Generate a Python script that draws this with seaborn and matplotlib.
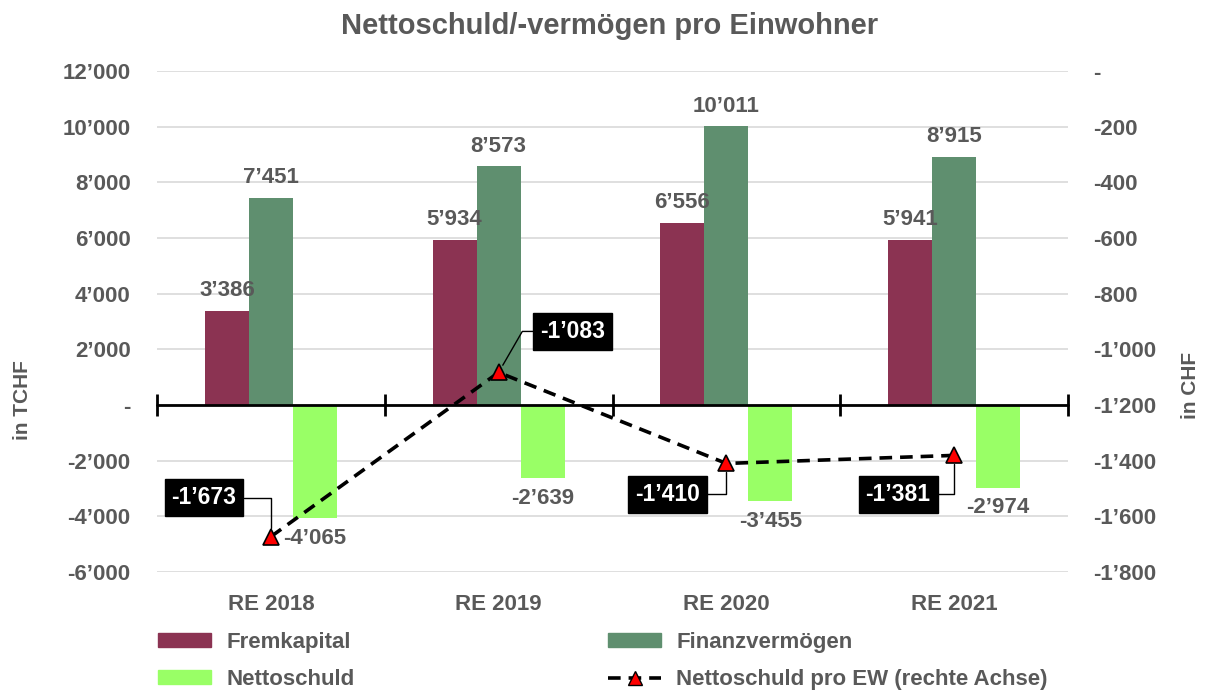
import numpy as np
import pandas as pd
import matplotlib as mpl
from matplotlib import pyplot as plt
from matplotlib.patches import Patch
from matplotlib.lines import Line2D
import seaborn as sns

# data
years = ['RE 2018', 'RE 2019', 'RE 2020', 'RE 2021']
fremkapital = [3386, 5934, 6556, 5941]
finanzvermoegen = [7451, 8573, 10011, 8915]
nettoschuld = [-4065, -2639, -3455, -2974]
netto_pro_ew = [-1673, -1083, -1410, -1381]

series = ['Fremkapital', 'Finanzvermögen', 'Nettoschuld']
colors = ['#8b3352', '#5f8f6f', '#99ff66']
line_label = 'Nettoschuld pro EW (rechte Achse)'

dframe = pd.DataFrame({
    'Jahr': years * 3,
    'Serie': [s for s in series for _ in years],
    'Wert': fremkapital + finanzvermoegen + nettoschuld,
})

grey = '#595959'


def fmt(v):
    if v == 0:
        return '-'
    return f'{int(v):,}'.replace(',', '\u2019')


sns.set_style("white")
plt.rcParams['font.family'] = ['Liberation Sans', 'DejaVu Sans']
plt.rcParams['font.weight'] = 'bold'

fig = plt.figure(figsize=(12.06, 6.93), dpi=100)
ax = fig.add_axes([157 / 1206, 1 - 572 / 693, 911 / 1206, 501 / 693])

sns.barplot(data=dframe, x='Jahr', y='Wert', hue='Serie', hue_order=series,
            palette=colors, saturation=1, width=0.58, errorbar=None,
            linewidth=0, legend=False, ax=ax)

ax.set_xlim(-0.5, 3.5)
ax.set_ylim(-6000, 12000)
ax.set_yticks(np.arange(-6000, 12001, 2000))
ax.set_yticklabels([fmt(t) for t in np.arange(-6000, 12001, 2000)])
ax.set_xlabel('')
ax.set_ylabel('')
ax.yaxis.grid(True, color='#d9d9d9', lw=1.2)
ax.set_axisbelow(True)
ax.tick_params(axis='both', length=0, labelsize=16, labelcolor=grey)
ax.tick_params(axis='y', pad=19)
ax.tick_params(axis='x', pad=16)
for lab in ax.get_xticklabels() + ax.get_yticklabels():
    lab.set_fontweight('bold')
for sp in ax.spines.values():
    sp.set_visible(False)

# bar value labels
values = [fremkapital, finanzvermoegen, nettoschuld]
for cont, vals in zip(ax.containers, values):
    ax.bar_label(cont, labels=[fmt(v) for v in vals], padding=7,
                 fontsize=16, fontweight='bold', color=grey)

# zero axis with category boundary ticks
bounds = np.arange(-0.5, len(years), 1.0)
ax.plot(bounds, np.zeros_like(bounds), color='black', lw=2, marker='|',
        ms=16, mew=2, clip_on=False, zorder=4)

# right axis line
ax2 = ax.twinx()
xpos = np.arange(len(years))
ax2.plot(xpos, netto_pro_ew, color='black', ls='--', lw=2.6, dashes=(3.5, 2.2),
         marker='^', ms=11, mfc='red', mec='black', mew=1.2, zorder=5)
ax2.set_ylim(-1800, 0)
ax2.set_yticks(np.arange(-1800, 1, 200))
ax2.set_yticklabels([fmt(t) for t in np.arange(-1800, 1, 200)])
ax2.tick_params(axis='y', length=0, labelsize=16, labelcolor=grey, pad=18)
for lab in ax2.get_yticklabels():
    lab.set_fontweight('bold')
for sp in ax2.spines.values():
    sp.set_visible(False)

# boxed labels for the line
offsets = [(-67, 39), (74, 41), (-59, -31), (-56, -39)]
angles = [90, 60, 90, 90]
for x, v, off, angB in zip(xpos, netto_pro_ew, offsets, angles):
    ax2.annotate(fmt(v), xy=(x, v), xytext=off, textcoords='offset pixels',
                 ha='center', va='center', fontsize=16.5, fontweight='bold',
                 color='white', zorder=6,
                 bbox=dict(boxstyle='square,pad=0.3', fc='black', ec='black'),
                 arrowprops=dict(arrowstyle='-', color='black', lw=1,
                                 shrinkA=0, shrinkB=6,
                                 connectionstyle=f'angle,angleA=0,angleB={angB},rad=0'))

fig.text(610 / 1206, 1 - 26 / 693, 'Nettoschuld/-vermögen pro Einwohner',
         ha='center', va='center', fontsize=21, fontweight='bold', color=grey)
fig.text(22 / 1206, 1 - 400 / 693, 'in TCHF', rotation=90, ha='center',
         va='center', fontsize=15, fontweight='bold', color=grey)
fig.text(1190 / 1206, 1 - 385 / 693, 'in CHF', rotation=90, ha='center',
         va='center', fontsize=15, fontweight='bold', color=grey)

handles = [Patch(color=colors[0], label=series[0]),
           Patch(color=colors[2], label=series[2]),
           Patch(color=colors[1], label=series[1]),
           Line2D([], [], color='black', ls='--', lw=2.6, dashes=(3.5, 2.2),
                  marker='^', ms=10, mfc='red', mec='black', label=line_label)]
leg = fig.legend(handles=handles, ncol=2, loc='upper left',
                 bbox_to_anchor=(158 / 1206, 1 - 632 / 693), frameon=False,
                 fontsize=16, handlelength=2.4, handleheight=0.55,
                 handletextpad=0.68, labelspacing=0.72, columnspacing=11.4,
                 borderpad=0, borderaxespad=0)
for t in leg.get_texts():
    t.set_color(grey)
    t.set_fontweight('bold')

fig.savefig('out.png', dpi=100)
